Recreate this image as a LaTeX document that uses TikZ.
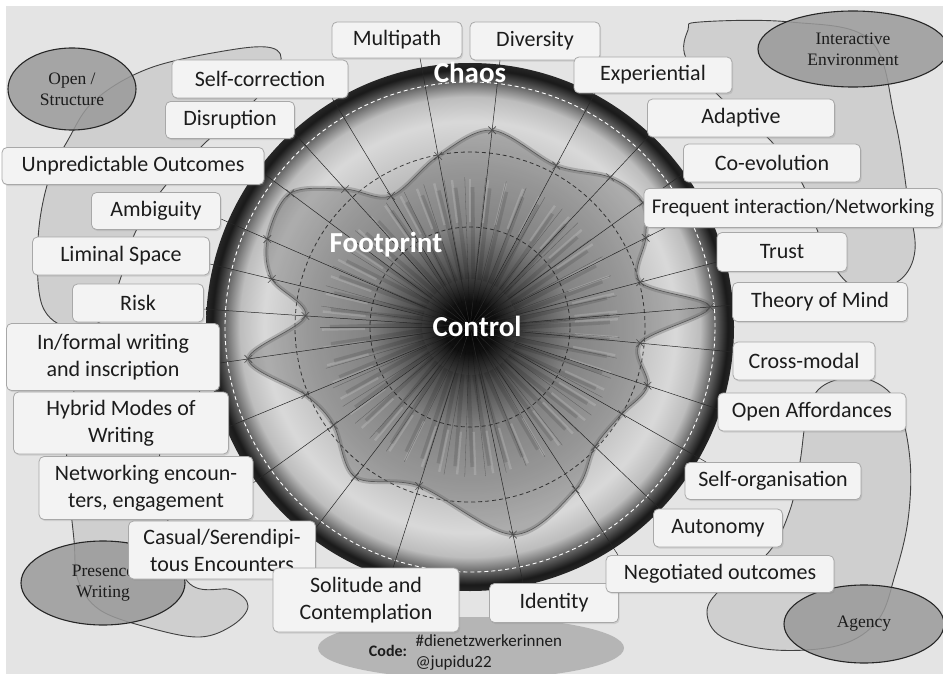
\documentclass[tikz,border=0pt]{standalone}
\usepackage{fontspec}
\setmainfont{Carlito}
\newfontfamily\ovalfont{Liberation Serif}
\usepackage{tikz}
\usetikzlibrary{calc,shapes.geometric,shapes.misc,shadows}
\definecolor{paper}{HTML}{E4E4E4}
\definecolor{blobgray}{HTML}{CFCFCF}
\definecolor{ovalgray}{HTML}{9A9A9A}
\definecolor{codegray}{HTML}{B5B5B5}
\definecolor{boxfill}{HTML}{F3F3F3}
\definecolor{boxline}{HTML}{A8A8A8}
\definecolor{ink}{HTML}{1C1C1C}

% dark core, light middle band, dark rim
\pgfdeclareradialshading{disc}{\pgfpointorigin}{%
  color(0bp)=(black); color(2.5bp)=(black!92); color(5.5bp)=(black!62);
  color(9.5bp)=(black!36); color(15bp)=(black!26); color(19.5bp)=(black!15);
  color(21.8bp)=(black!26); color(23.2bp)=(black!60); color(24.4bp)=(black!90);
  color(25bp)=(black!85); color(50bp)=(black!85)}

\begin{document}
\begin{tikzpicture}[x=1pt, y=-1pt,
    lblbox/.style={draw=boxline, fill=boxfill, rounded corners=5pt, line width=0.8pt,
      text=ink, align=center, inner sep=2pt, font=\fontsize{22}{27}\selectfont,
      drop shadow={opacity=0.22, shadow xshift=1.2pt, shadow yshift=-1.6pt}},
    blob/.style={draw=black!75, line width=0.9pt, fill=blobgray},
    oval/.style={ellipse, draw=black!85, line width=1.1pt, fill=ovalgray, fill opacity=0.85,
      text opacity=1, text=ink, align=center, inner sep=0pt,
      font=\ovalfont\fontsize{17.5}{21}\selectfont},
    spoke/.style={black!85, line width=0.5pt},
    tick/.style={draw=black!70, cross out, minimum size=7pt, inner sep=0pt, line width=0.6pt},
    circtext/.style={text=white, font=\fontsize{29}{34}\selectfont\bfseries},
    streak/.style={white, opacity=0.16, line width=2.4pt},
    bar/.style={black, opacity=0.12, line width=4pt}]

  \useasboundingbox (0,0) rectangle (943,674);
  \fill[white] (0,0) rectangle (943,674);
  \fill[paper] (6,6) rectangle (943,674);

  % background areas behind the four corner themes
  \draw[blob] plot[smooth cycle, tension=0.6] coordinates {(68,140) (95,100) (150,68) (230,50)
    (272,48) (280,64) (255,100) (205,143) (162,190) (135,233) (120,280) (105,318) (70,328)
    (42,305) (38,240) (48,182)};
  \draw[blob] plot[smooth cycle, tension=0.6] coordinates {(700,22) (790,22) (870,40) (895,120)
    (908,200) (915,250) (900,280) (865,290) (840,275) (818,232) (803,185) (770,140) (720,97)
    (686,58) (688,30)};
  \draw[blob] plot[smooth cycle, tension=0.6] coordinates {(818,390) (845,378) (875,382)
    (898,405) (910,460) (908,520) (895,575) (878,620) (840,645) (775,650) (722,637) (707,612)
    (722,588) (768,553) (790,510) (800,462) (806,420)};
  \draw[blob] plot[smooth cycle, tension=0.6] coordinates {(80,340) (190,335) (200,390)
    (170,430) (160,470) (185,578) (232,590) (248,606) (233,625) (200,637) (150,628) (100,610)
    (78,580) (74,540) (68,480) (67,440) (74,390)};

  \node[oval, minimum width=128, minimum height=82] (openst) at (72,89) {Open /\\Structure};
  \node[oval, minimum width=190, minimum height=76] (interenv) at (853,49) {Interactive\\Environment};
  \node[oval, minimum width=164, minimum height=84] (presence) at (103,583) {Presence\\Writing};
  \node[oval, minimum width=160, minimum height=78] (agency) at (864,624) {Agency};
  \node[ellipse, fill=codegray, minimum width=306, minimum height=62] (code) at (471,648) {};

  % the disc
  \coordinate (c) at (470,327);
  \shade[shading=disc] (c) circle[radius=264pt];
  \draw[white, line width=0.9pt, dash pattern=on 4pt off 3pt] (c) circle[radius=245pt];
  \foreach \r in {100,175}
    \draw[black!75, line width=0.8pt, dash pattern=on 4pt off 3pt] (c) circle[radius=\r pt];

  % spoke ends on the label boxes, footprint value on each spoke
  \foreach \n/\ex/\ey/\r in {multi/420/58/174, div/500/60/198, exper/595/93/183,
      adapt/648/137/205, coevo/684/173/213, freq/665/228/197, trust/717/262/176,
      tom/733/305/241, cross/733/352/171, openaff/718/409/187, selforg/706/462/175,
      auton/660/509/173, negot/618/555/194, ident/523/583/212, solit/393/568/167,
      casual/315/529/189, netw/253/483/168, hybrid/228/427/178, informal/220/363/224,
      risk/203/309/165, liminal/210/264/204, ambig/221/219/221, unpred/263/173/224,
      disrupt/295/134/186, selfcorr/332/98/153} {
    \coordinate (e-\n) at (\ex,\ey);
    \coordinate (v-\n) at ($(c)!\r pt!(e-\n)$);
  }

  % footprint
  \fill[black, opacity=0.2] plot[smooth cycle, tension=0.55] coordinates {(v-multi) (v-div)
    (v-exper) (v-adapt) (v-coevo) (v-freq) (v-trust) (v-tom) (v-cross) (v-openaff) (v-selforg)
    (v-auton) (v-negot) (v-ident) (v-solit) (v-casual) (v-netw) (v-hybrid) (v-informal)
    (v-risk) (v-liminal) (v-ambig) (v-unpred) (v-disrupt) (v-selfcorr)};
  \foreach \a in {2,9,...,359} {
    \draw[bar] ($(c)+(\a:48pt)$) -- ($(c)+(\a+3:140pt)$);
    \draw[streak] ($(c)+(\a+4:105pt)$) -- ($(c)+(\a+4:148pt)$);
  }
  \foreach \a in {4,12,...,356}
    \draw[black, line width=0.3pt, opacity=0.35] ($(c)+(\a:25pt)$) -- ($(c)+(\a:150pt)$);
  \draw[black!60, opacity=0.35, line width=5pt] plot[smooth cycle, tension=0.55] coordinates {(v-multi) (v-div)
    (v-exper) (v-adapt) (v-coevo) (v-freq) (v-trust) (v-tom) (v-cross) (v-openaff) (v-selforg)
    (v-auton) (v-negot) (v-ident) (v-solit) (v-casual) (v-netw) (v-hybrid) (v-informal)
    (v-risk) (v-liminal) (v-ambig) (v-unpred) (v-disrupt) (v-selfcorr)};
  \draw[black!65, line width=0.7pt] plot[smooth cycle, tension=0.55] coordinates {(v-multi) (v-div)
    (v-exper) (v-adapt) (v-coevo) (v-freq) (v-trust) (v-tom) (v-cross) (v-openaff) (v-selforg)
    (v-auton) (v-negot) (v-ident) (v-solit) (v-casual) (v-netw) (v-hybrid) (v-informal)
    (v-risk) (v-liminal) (v-ambig) (v-unpred) (v-disrupt) (v-selfcorr)};

  \foreach \n in {multi,div,exper,adapt,coevo,freq,trust,tom,cross,openaff,selforg,auton,
      negot,ident,solit,casual,netw,hybrid,informal,risk,liminal,ambig,unpred,disrupt,selfcorr} {
    \draw[spoke] (c) -- (e-\n);
    \node[tick] (t-\n) at (v-\n) {};
  }

  \node[circtext] (chaos) at (470,72) {Chaos};
  \node[circtext] (footprint) at (386,245) {Footprint};
  \node[circtext] (control) at (477,326) {Control};

  % labels round the disc
  \foreach \n/\x/\y/\w/\h/\txt in {selfcorr/260/79/176/38/Self-correction,
      multi/397/40/130/36/Multipath, div/535/41/130/38/Diversity,
      exper/653/75/158/36/Experiential, adapt/741/118/187/38/Adaptive,
      coevo/772/163/177/38/Co-evolution,
      freq/793/208/298/39/{\fontsize{21}{25}\selectfont Frequent interaction/Networking},
      trust/782/252/130/39/Trust, tom/820/302/175/39/Theory of Mind,
      cross/804/361/142/38/Cross-modal, openaff/812/412/188/38/Open Affordances,
      selforg/773/481/176/37/Self-organisation, auton/718/528/129/38/Autonomy,
      ident/554/603/129/39/Identity, negot/720/574/228/37/Negotiated outcomes,
      casual/222/550/187/58/{Casual/Serendipi-\\tous Encounters},
      solit/366/600/186/64/{Solitude and\\Contemplation},
      netw/146/488/214/63/{Networking encoun-\\ters, engagement},
      hybrid/121/423/215/62/{Hybrid Modes of\\Writing},
      informal/113/357/213/67/{In/formal writing\\and inscription},
      risk/138/303/131/38/Risk, liminal/121/256/177/38/Liminal Space,
      ambig/156/211/129/37/Ambiguity, unpred/133/166/262/37/Unpredictable Outcomes,
      disrupt/230/120/129/37/Disruption}
    \node[lblbox, minimum width=\w pt, minimum height=\h pt] (\n) at (\x,\y) {\txt};

  \node[text=ink, font=\fontsize{16}{19}\selectfont\bfseries] (codelbl) at (388,651) {Code:};
  \node[text=ink, anchor=west, align=left, font=\fontsize{17}{21}\selectfont] (codetxt)
    at (412,653) {\#dienetzwerkerinnen\\@jupidu22};
\end{tikzpicture}
\end{document}
